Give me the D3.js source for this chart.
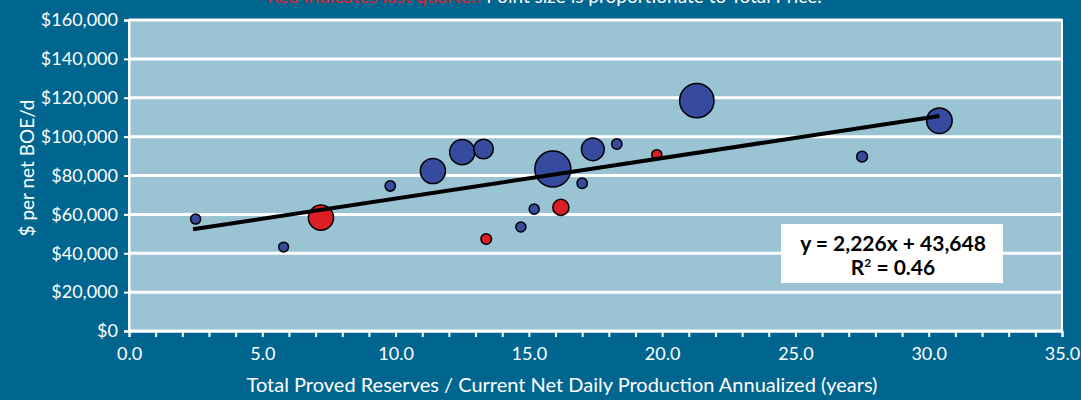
<!DOCTYPE html>
<html>
<head>
<meta charset="utf-8">
<script src="https://cdn.jsdelivr.net/npm/d3@7"></script>
<style>
  body { margin: 0; background: #006690; }
  svg { display: block; }
  text { font-family: Lato, "Open Sans", sans-serif; }
</style>
</head>
<body>
<svg id="chart" width="1081" height="400"></svg>
<script>
// reserve life (years) vs $ per net BOE/d, size = total price
var reserveLife = [2.5, 5.8, 7.2, 9.8, 11.4, 12.5, 13.3, 13.4, 14.7, 15.2, 15.9, 16.2, 17.0, 17.4, 18.3, 19.8, 21.3, 27.5, 30.4];
var pricePerBoe = [57600, 43200, 58300, 74600, 82300, 92000, 93600, 47300, 53500, 62700, 83300, 63600, 76000, 93500, 96200, 90700, 118500, 89700, 108200];
var totalPrice  = [90, 85, 560, 95, 560, 560, 340, 100, 90, 90, 1150, 230, 95, 460, 95, 90, 1050, 105, 580];
var lastQuarter = [0, 0, 1, 0, 0, 0, 0, 1, 0, 0, 0, 1, 0, 0, 0, 1, 0, 0, 0];

// trendline as drawn (end points)
var trendX = [2.4, 30.4];
var trendY = [52300, 110600];

var yTicks = [0, 20000, 40000, 60000, 80000, 100000, 120000, 140000, 160000];
var xLabelTicks = [0, 5, 10, 15, 20, 25, 30, 35];

var svg = d3.select('#chart');
var plotL = 129, plotR = 1062, plotT = 20, plotB = 331;

var x = d3.scaleLinear().domain([0, 35]).range([plotL, plotR]);
var y = d3.scaleLinear().domain([0, 160000]).range([plotB, plotT]);
var r = d3.scaleSqrt().domain([0, d3.max(totalPrice)]).range([0, 18]);

// plot background
svg.append('rect')
  .attr('x', plotL).attr('y', plotT)
  .attr('width', plotR - plotL).attr('height', plotB - plotT)
  .attr('fill', '#9ac3d4')
  .attr('stroke', 'white').attr('stroke-width', 2);

// gridlines
svg.append('g')
  .selectAll('line')
  .data(yTicks)
  .join('line')
  .attr('x1', plotL).attr('x2', plotR)
  .attr('y1', d => y(d)).attr('y2', d => y(d))
  .attr('stroke', 'white').attr('stroke-width', 3);

// y axis
var fmt = d3.format(',');
var yAxis = d3.axisLeft(y).tickValues(yTicks).tickSize(5).tickPadding(6)
  .tickFormat(d => '$' + fmt(d));
var gy = svg.append('g').attr('transform', 'translate(' + plotL + ',0)').call(yAxis);
gy.select('.domain').attr('stroke', 'white').attr('stroke-width', 2);
gy.selectAll('.tick line').attr('stroke', 'white').attr('stroke-width', 2);
gy.selectAll('.tick text').attr('fill', 'white').style('font-size', '18px');

// x axis, ticks every year, labels every 5
var xAxis = d3.axisBottom(x).ticks(35).tickSize(6).tickPadding(10)
  .tickFormat(d => xLabelTicks.indexOf(d) >= 0 ? d3.format('.1f')(d) : '');
var gx = svg.append('g').attr('transform', 'translate(0,' + plotB + ')').call(xAxis);
gx.select('.domain').attr('stroke', 'white').attr('stroke-width', 2);
gx.selectAll('.tick line').attr('stroke', 'white').attr('stroke-width', 2);
gx.selectAll('.tick text').attr('fill', 'white').style('font-size', '18px');

// points, big ones first
var pts = reserveLife.map(function (d, i) {
  return { x: d, y: pricePerBoe[i], p: totalPrice[i], red: lastQuarter[i] };
}).sort((a, b) => b.p - a.p);

svg.append('g')
  .selectAll('circle')
  .data(pts)
  .join('circle')
  .attr('cx', d => x(d.x))
  .attr('cy', d => y(d.y))
  .attr('r', d => r(d.p))
  .attr('fill', d => d.red ? '#dc1f26' : '#364a9e')
  .attr('stroke', 'black').attr('stroke-width', 1.5);

// trendline
svg.append('line')
  .attr('x1', x(trendX[0])).attr('y1', y(trendY[0]))
  .attr('x2', x(trendX[1])).attr('y2', y(trendY[1]))
  .attr('stroke', 'black').attr('stroke-width', 4);

// equation box
var box = svg.append('g');
box.append('rect')
  .attr('x', 781).attr('y', 224).attr('width', 222).attr('height', 59)
  .attr('fill', 'white');
box.append('text')
  .attr('x', 893).attr('y', 251)
  .attr('text-anchor', 'middle')
  .style('font-size', '21px').style('font-weight', 'bold')
  .text('y = 2,226x + 43,648');
var r2 = box.append('text')
  .attr('x', 893).attr('y', 275)
  .attr('text-anchor', 'middle')
  .style('font-size', '21px').style('font-weight', 'bold');
r2.append('tspan').text('R');
r2.append('tspan').attr('dy', -8).style('font-size', '12px').text('2');
r2.append('tspan').attr('dy', 8).text(' = 0.46');

// axis titles
svg.append('text')
  .attr('x', 562).attr('y', 392)
  .attr('text-anchor', 'middle')
  .attr('fill', 'white').style('font-size', '20px')
  .text('Total Proved Reserves / Current Net Daily Production Annualized (years)');

svg.append('text')
  .attr('transform', 'translate(34,168) rotate(-90)')
  .attr('text-anchor', 'middle')
  .attr('fill', 'white').style('font-size', '19px')
  .text('$ per net BOE/d');

// subtitle, mostly cut off at the top
var sub = svg.append('text')
  .attr('x', 267).attr('y', 3)
  .style('font-size', '19px');
sub.append('tspan').attr('fill', '#e0202a').text('Red indicates last quarter. ');
sub.append('tspan').attr('fill', 'white').text('Point size is proportionate to Total Price.');
</script>
</body>
</html>
